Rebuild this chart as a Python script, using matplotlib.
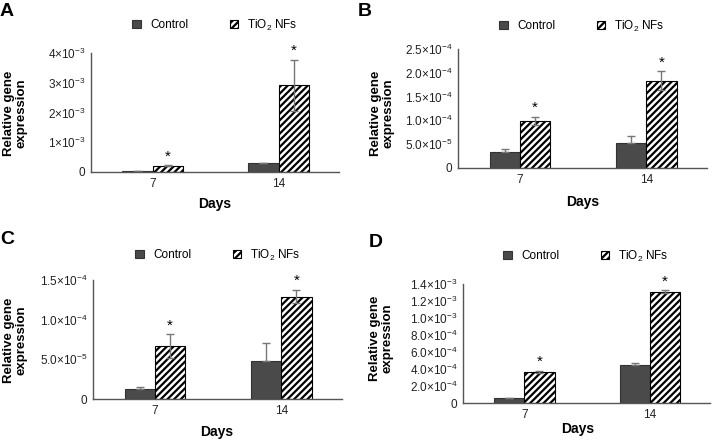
import matplotlib
matplotlib.use('Agg')
import matplotlib.pyplot as plt
import numpy as np

plt.rcParams['font.family'] = ['Liberation Sans', 'DejaVu Sans']
plt.rcParams['mathtext.fontset'] = 'custom'
plt.rcParams['mathtext.rm'] = 'Liberation Sans'
plt.rcParams['mathtext.it'] = 'Liberation Sans:italic'
plt.rcParams['mathtext.bf'] = 'Liberation Sans:bold'
plt.rcParams['hatch.linewidth'] = 1.6

days = ['7', '14']

# panel A
ctrl_a = [0.04e-3, 0.29e-3]
ctrl_a_err = [0.005e-3, 0.02e-3]
tio2_a = [0.21e-3, 2.92e-3]
tio2_a_err = [0.01e-3, 0.86e-3]
ticks_a = [0, 1e-3, 2e-3, 3e-3, 4e-3]
labels_a = ['0', r'1$\times$10$^{-3}$', r'2$\times$10$^{-3}$', r'3$\times$10$^{-3}$', r'4$\times$10$^{-3}$']

# panel B
ctrl_b = [0.33e-4, 0.525e-4]
ctrl_b_err = [0.07e-4, 0.15e-4]
tio2_b = [0.99e-4, 1.835e-4]
tio2_b_err = [0.09e-4, 0.2e-4]
ticks_b = [0, 0.5e-4, 1.0e-4, 1.5e-4, 2.0e-4, 2.5e-4]
labels_b = ['0', r'5.0$\times$10$^{-5}$', r'1.0$\times$10$^{-4}$', r'1.5$\times$10$^{-4}$',
            r'2.0$\times$10$^{-4}$', r'2.5$\times$10$^{-4}$']

# panel C
ctrl_c = [0.127e-4, 0.473e-4]
ctrl_c_err = [0.025e-4, 0.23e-4]
tio2_c = [0.667e-4, 1.289e-4]
tio2_c_err = [0.15e-4, 0.085e-4]
ticks_c = [0, 0.5e-4, 1.0e-4, 1.5e-4]
labels_c = ['0', r'5.0$\times$10$^{-5}$', r'1.0$\times$10$^{-4}$', r'1.5$\times$10$^{-4}$']

# panel D
ctrl_d = [0.055e-3, 0.452e-3]
ctrl_d_err = [0.008e-3, 0.016e-3]
tio2_d = [0.37e-3, 1.31e-3]
tio2_d_err = [0.012e-3, 0.016e-3]
ticks_d = [0, 0.2e-3, 0.4e-3, 0.6e-3, 0.8e-3, 1.0e-3, 1.2e-3, 1.4e-3]
labels_d = ['0', r'2.0$\times$10$^{-4}$', r'4.0$\times$10$^{-4}$', r'6.0$\times$10$^{-4}$',
            r'8.0$\times$10$^{-4}$', r'1.0$\times$10$^{-3}$', r'1.2$\times$10$^{-3}$',
            r'1.4$\times$10$^{-3}$']

W, H = 714, 443
fig = plt.figure(figsize=(W / 100, H / 100), dpi=100)


def px(xp, yp):
    return xp / W, 1 - yp / H


# axes box (left, right, bottom, top), letter pos, ylabel pos, xlabel pos, legend centre - all pixels
panels = [
    ('A', (91, 339, 172, 53), (0, 3), (15, 113), (215, 204), (215, 25),
     ctrl_a, ctrl_a_err, tio2_a, tio2_a_err, ticks_a, labels_a),
    ('B', (458, 707, 168, 49), (358, 3), (382, 113), (583, 202), (582, 26),
     ctrl_b, ctrl_b_err, tio2_b, tio2_b_err, ticks_b, labels_b),
    ('C', (93, 342, 399, 280), (0, 231), (15, 340), (217, 432), (218, 255),
     ctrl_c, ctrl_c_err, tio2_c, tio2_c_err, ticks_c, labels_c),
    ('D', (463, 710, 403, 284), (369, 234), (381, 338), (578, 429), (586, 256),
     ctrl_d, ctrl_d_err, tio2_d, tio2_d_err, ticks_d, labels_d),
]

x = np.arange(len(days))
w = 0.24
for letter, box, lp, ylp, xlp, legp, cv, ce, tv, te, yt, yl in panels:
    l, r, b, t = box
    ax = fig.add_axes([l / W, 1 - b / H, (r - l) / W, (b - t) / H])
    ax.bar(x - w / 2, cv, w, color='#4a4a4a', edgecolor='#333333', lw=0.8, label='Control',
           yerr=[[0, 0], ce], ecolor='#777777', error_kw=dict(lw=1, capsize=3, capthick=1))
    ax.bar(x + w / 2, tv, w, color='white', edgecolor='black', hatch='/////', lw=0.8,
           label=r'TiO$_2$ NFs',
           yerr=te, ecolor='#777777', error_kw=dict(lw=1, capsize=3, capthick=1))
    top = yt[-1]
    for xi, v, e in zip(x, tv, te):
        ax.text(xi + w / 2, v + e + top * 0.015, '*', ha='center', va='bottom', fontsize=11)
    ax.set_ylim(0, top)
    ax.set_xlim(-0.49, 1.48)
    ax.set_yticks(yt)
    ax.set_yticklabels(yl)
    ax.set_xticks(x)
    ax.set_xticklabels(days)
    ax.tick_params(length=0, labelsize=8.5, colors='#222222', pad=4)
    for s in ['top', 'right']:
        ax.spines[s].set_visible(False)
    for s in ['left', 'bottom']:
        ax.spines[s].set_color('#555555')
        ax.spines[s].set_linewidth(1)
    ax.legend(loc='center', bbox_to_anchor=px(*legp), bbox_transform=fig.transFigure,
              ncol=2, frameon=False, handlelength=0.7, handleheight=0.7,
              columnspacing=3.5, fontsize=8.5, borderpad=0, borderaxespad=0)
    fig.text(*px(*lp), letter, fontsize=14, fontweight='bold', va='top', ha='left')
    fig.text(*px(*ylp), 'Relative gene\nexpression', fontsize=9.5, fontweight='bold',
             rotation=90, ha='center', va='center', linespacing=1.05)
    fig.text(*px(*xlp), 'Days', fontsize=10, fontweight='bold', ha='center', va='center')

fig.savefig('out.png', dpi=100)
